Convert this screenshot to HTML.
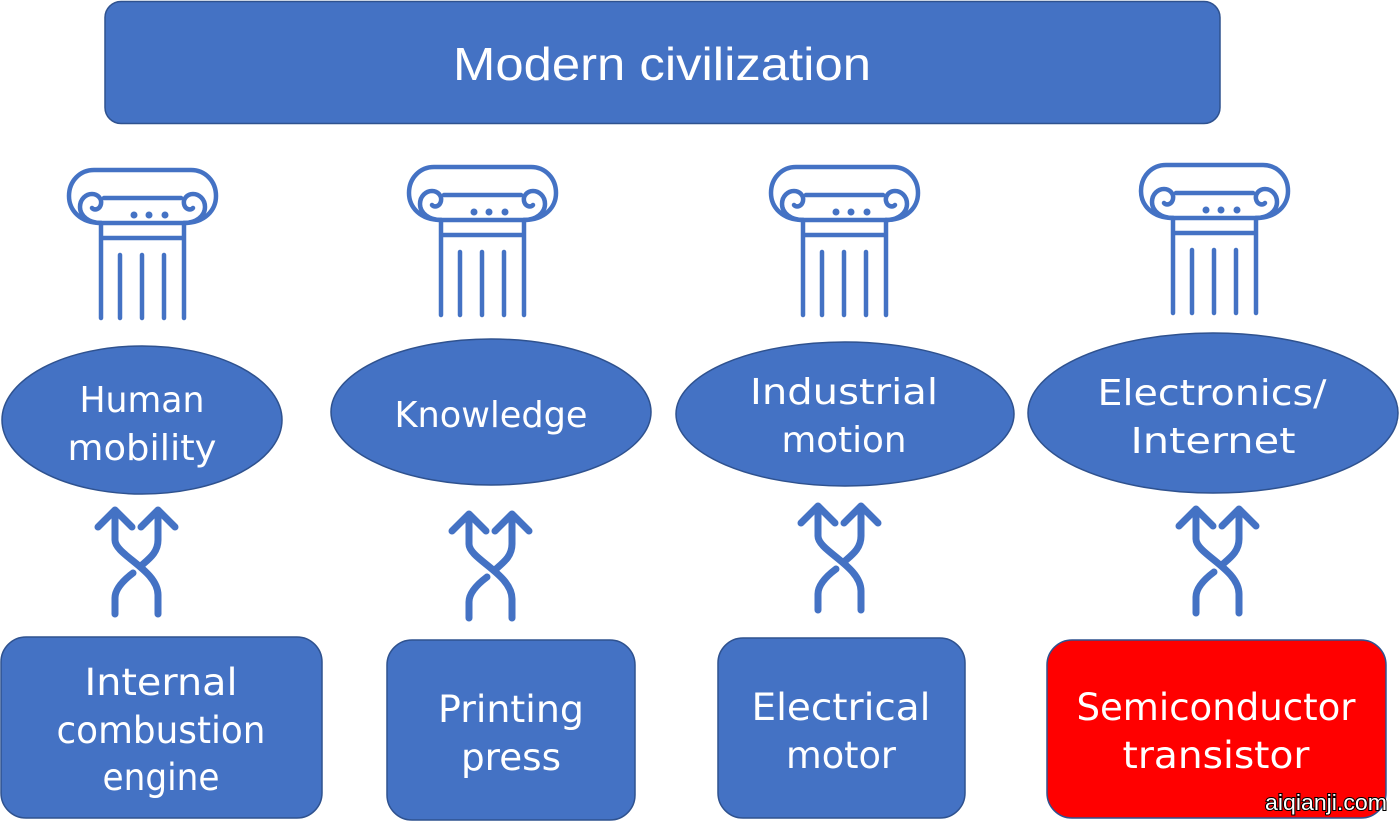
<!DOCTYPE html>
<html><head><meta charset="utf-8"><style>html,body{margin:0;padding:0;background:#fff}svg{display:block}</style></head>
<body>
<svg width="1400" height="825" viewBox="0 0 1400 825" xmlns="http://www.w3.org/2000/svg">
<defs>
<g id="col" fill="none" stroke="#4472c4" stroke-width="4.5" stroke-linecap="round" stroke-linejoin="round">
  <path d="M33,55 C12,55 1,42 1,28 C1,13 12,2 26,2 L123,2 C137,2 148,13 148,28 C148,42 137,55 116,55 Z"/>
  <path d="M33,55 C21,55 12,48 12,39 C12,31 18,26 24,26 C30,26 34,31 33,36 C32,41 27,43 24,40"/>
  <path d="M116,55 C128,55 137,48 137,39 C137,31 131,26 125,26 C119,26 115,31 116,36 C117,41 122,43 125,40"/>
  <path d="M36,30 L113,30"/>
  <path d="M33,55 L33,150 M116,55 L116,150 M33,70 L116,70"/>
  <path d="M52,87 L52,150 M74,87 L74,150 M96,87 L96,150"/>
  <circle cx="66" cy="47" r="3.5" fill="#4472c4" stroke="none"/>
  <circle cx="81" cy="47" r="3.5" fill="#4472c4" stroke="none"/>
  <circle cx="97" cy="47" r="3.5" fill="#4472c4" stroke="none"/>
</g>
<g id="arr" fill="none" stroke="#4472c4" stroke-width="7" stroke-linecap="round" stroke-linejoin="round">
  <path d="M0,2 L0,30 C0,45 43,60 43,85 L43,104"/>
  <path d="M0,104 L0,88 C0,78 10,69 18,63"/>
  <path d="M27,55 C35,48 43,42 43,30 L43,2"/>
  <path d="M-17,17 L0,0 L17,17 M26,17 L43,0 L60,17"/>
</g>
</defs>
<g font-family="'DejaVu Sans',sans-serif" fill="#fff" text-anchor="middle">
<rect x="105" y="1.5" width="1115" height="122" rx="16" fill="#4472c4" stroke="#2f528f" stroke-width="1.5"/>
<text x="662" y="80" font-family="'Liberation Sans',sans-serif" font-size="46" textLength="418" lengthAdjust="spacingAndGlyphs">Modern civilization</text>

<use href="#col" x="68" y="168"/>
<use href="#col" x="408" y="165"/>
<use href="#col" x="770" y="165"/>
<use href="#col" x="1140" y="163"/>

<ellipse cx="142" cy="420" rx="140" ry="74" fill="#4472c4" stroke="#2f528f" stroke-width="1.5"/>
<ellipse cx="491" cy="412" rx="160" ry="73" fill="#4472c4" stroke="#2f528f" stroke-width="1.5"/>
<ellipse cx="845" cy="414" rx="169" ry="72" fill="#4472c4" stroke="#2f528f" stroke-width="1.5"/>
<ellipse cx="1213" cy="413" rx="185" ry="80" fill="#4472c4" stroke="#2f528f" stroke-width="1.5"/>
<g font-size="36">
<text x="142" y="412" textLength="125" lengthAdjust="spacingAndGlyphs">Human</text>
<text x="142" y="460" textLength="149" lengthAdjust="spacingAndGlyphs">mobility</text>
<text x="491" y="427" textLength="193" lengthAdjust="spacingAndGlyphs">Knowledge</text>
<text x="844" y="404" textLength="188" lengthAdjust="spacingAndGlyphs">Industrial</text>
<text x="844" y="452" textLength="125" lengthAdjust="spacingAndGlyphs">motion</text>
<text x="1212" y="405" textLength="229" lengthAdjust="spacingAndGlyphs">Electronics/</text>
<text x="1213" y="453" textLength="165" lengthAdjust="spacingAndGlyphs">Internet</text>
</g>

<use href="#arr" x="115" y="510"/>
<use href="#arr" x="469" y="514"/>
<use href="#arr" x="818" y="506"/>
<use href="#arr" x="1196" y="509"/>

<rect x="1" y="637" width="321" height="181" rx="25" fill="#4472c4" stroke="#2f528f" stroke-width="1.5"/>
<rect x="387" y="640" width="248" height="180" rx="25" fill="#4472c4" stroke="#2f528f" stroke-width="1.5"/>
<rect x="718" y="638" width="247" height="180" rx="25" fill="#4472c4" stroke="#2f528f" stroke-width="1.5"/>
<rect x="1047" y="640" width="339" height="178" rx="25" fill="#ff0000" stroke="#2f528f" stroke-width="1.5"/>
<g font-size="37">
<text x="161" y="695" textLength="153" lengthAdjust="spacingAndGlyphs">Internal</text>
<text x="161" y="743" textLength="209" lengthAdjust="spacingAndGlyphs">combustion</text>
<text x="161" y="790" textLength="117" lengthAdjust="spacingAndGlyphs">engine</text>
<text x="511" y="722" textLength="146" lengthAdjust="spacingAndGlyphs">Printing</text>
<text x="511" y="770" textLength="100" lengthAdjust="spacingAndGlyphs">press</text>
<text x="841" y="720" textLength="179" lengthAdjust="spacingAndGlyphs">Electrical</text>
<text x="841" y="768" textLength="110" lengthAdjust="spacingAndGlyphs">motor</text>
<text x="1216" y="720" textLength="279" lengthAdjust="spacingAndGlyphs">Semiconductor</text>
<text x="1216" y="768" textLength="187" lengthAdjust="spacingAndGlyphs">transistor</text>
</g>
<text x="1265" y="810" text-anchor="start" font-family="'Liberation Sans',sans-serif" font-size="22" fill="#fff" stroke="#000" stroke-width="2" paint-order="stroke" textLength="122" lengthAdjust="spacingAndGlyphs">aiqianji.com</text>
</g>
</svg>
</body></html>
